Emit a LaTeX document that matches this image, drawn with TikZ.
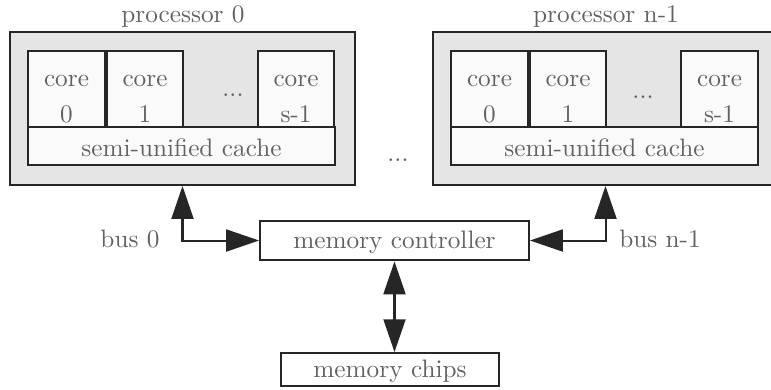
\documentclass[tikz,border=0pt]{standalone}
\usetikzlibrary{arrows.meta}

\tikzset{
  txt/.style={text=black!62},
  procbox/.style={draw=black!85, line width=0.8pt, fill=black!10, minimum width=136.6pt, minimum height=60.6pt},
  corebox/.style={draw=black!85, line width=0.8pt, fill=black!2, txt, align=center, minimum width=30.4pt, minimum height=30pt, inner sep=0pt},
  cachebox/.style={draw=black!85, line width=0.8pt, fill=black!2, txt, text height=8.6pt, minimum width=121.6pt, minimum height=15pt, inner sep=0pt},
  unitbox/.style={draw=black!85, line width=0.8pt, fill=white, txt, text height=8.2pt, inner sep=0pt},
  bus/.style={{Triangle[length=13pt,width=8.7pt]}-{Triangle[length=13pt,width=8.7pt]}, line width=0.8pt, black!85},
}
\newcommand{\corelbl}[1]{\rule{0pt}{12.4pt}core\\[2.4pt]#1}

\begin{document}
\begin{tikzpicture}[x=0.396pt,y=-0.396pt]
  \useasboundingbox (0,0) rectangle (771,389);
  \begin{scope}
  \clip (0,0) rectangle (771,389);

  \node[procbox] (P0) at (182.5,108.5) {};
  \node[txt] (P0L) at (183,17) {processor 0};
  \node[corebox] (P0C0) at (66.5,89) {\corelbl{0}};
  \node[corebox] (P0C1) at (145,89) {\corelbl{1}};
  \node[txt] (P0D) at (233,95) {...};
  \node[corebox] (P0CS) at (296,89) {\corelbl{s-1}};
  \node[cachebox] (P0K) at (181.5,146) {semi-unified cache};

  \node[procbox] (PN) at (605.5,108.5) {};
  \node[txt] (PNL) at (606,17) {processor n-1};
  \node[corebox] (PNC0) at (489.5,89) {\corelbl{0}};
  \node[corebox] (PNC1) at (568,89) {\corelbl{1}};
  \node[txt] (PND) at (643,97) {...};
  \node[corebox] (PNCS) at (719.5,89) {\corelbl{s-1}};
  \node[cachebox] (PNK) at (604.5,146) {semi-unified cache};

  \node[txt] (PD) at (398,160) {...};

  \node[unitbox, minimum width=106.5pt, minimum height=15.8pt] (MC) at (394.5,240.5) {memory controller};
  \node[unitbox, minimum width=86.3pt, minimum height=13pt] (MCH) at (390,369.5) {memory chips};

  \node[txt] (B0) at (130,239) {bus 0};
  \node[txt] (BN) at (660,239) {bus n-1};

  \draw[bus] (P0.south) |- (MC.west);
  \draw[bus] (PN.south) |- (MC.east);
  \draw[bus] (MC.south) -- (MC.south |- MCH.north);
  \end{scope}
\end{tikzpicture}
\end{document}
